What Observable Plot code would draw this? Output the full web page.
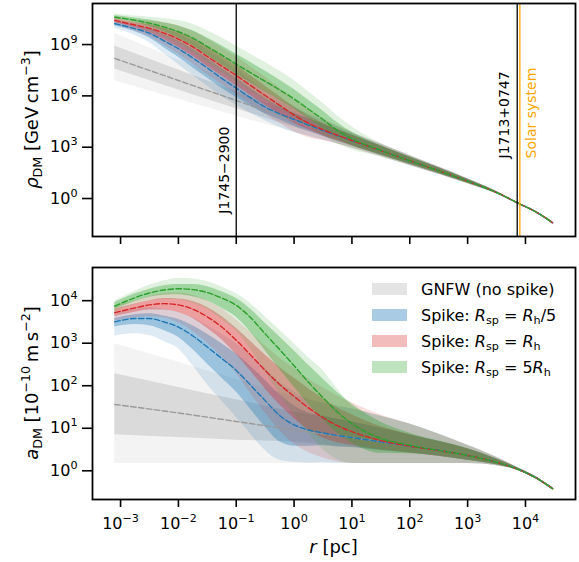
<!DOCTYPE html>
<html><head><meta charset="utf-8">
<script src="https://cdn.jsdelivr.net/npm/d3@7"></script>
<script src="https://cdn.jsdelivr.net/npm/@observablehq/plot@0.6"></script>
<style>
body{margin:0;background:#fff;font-family:"DejaVu Sans",sans-serif;}
#wrap{position:relative;width:579px;height:562px;overflow:hidden;background:#fff;}
#top,#bot{position:absolute;left:0;}
#top{top:0;} #bot{top:250px;}
#overlay{position:absolute;left:0;top:0;}
</style></head>
<body><div id="wrap"><div id="top"></div><div id="bot"></div>
<svg id="overlay" width="579" height="562" font-family="DejaVu Sans"></svg></div>
<script>
// ---------- data (log10 values) ----------
const logR_G = [-3.1,-2,-1,0,1,2,3,3.5,3.86,4.2,4.47];
const logR_S = [-3.1,-2.75,-2.5,-2.25,-2,-1.75,-1.5,-1.25,-1,-0.75,-0.5,-0.25,0,0.25,0.5,0.75,1,1.5,2,3,3.5,3.86,4.2,4.47];

// top panel: log10 rho_DM [GeV cm^-3]
const gnfwRhoMed = [8.19,6.90,5.73,4.56,3.39,2.21,1.01,0.35,-0.25,-0.82,-1.42];
const gnfwRhoUp1 = [0.72,0.62,0.52,0.42,0.32,0.22,0.12,0.05,0.01,0.02,0.04];
const gnfwRhoDn1 = [0.62,0.55,0.48,0.40,0.30,0.20,0.10,0.05,0.01,0.02,0.04];
const gnfwRhoUp2 = [1.45,1.20,0.98,0.72,0.45,0.30,0.15,0.07,0.02,0.04,0.07];
const gnfwRhoDn2 = [1.30,1.10,0.90,0.68,0.42,0.28,0.14,0.07,0.02,0.04,0.07];

const blueRhoMed = [10.22,9.93,9.66,9.22,8.76,8.21,7.63,7.02,6.45,5.88,5.35,4.95,4.62,4.29,3.97,3.68,3.39,2.80,2.21,1.01,0.35,-0.25,-0.82,-1.42];
const blueRhoUp1 = [.13,.17,.25,.35,.45,.52,.56,.58,.58,.55,.50,.42,.36,.38,.37,.35,.32,.27,.22,.12,.05,.01,.02,.04];
const blueRhoDn1 = [.13,.18,.28,.40,.50,.56,.58,.58,.55,.48,.40,.35,.38,.35,.33,.32,.30,.25,.20,.10,.05,.01,.02,.04];
const blueRhoUp2 = [.22,.32,.48,.68,.85,.98,1.05,1.10,1.10,1.05,.95,.85,.75,.65,.59,.52,.45,.38,.30,.15,.07,.02,.04,.07];
const blueRhoDn2 = [.28,.38,.55,.75,.92,1.02,1.05,1.05,1.00,.90,.80,.78,.76,.65,.55,.48,.42,.35,.28,.14,.07,.02,.04,.07];

const redRhoMed = [10.41,10.14,9.95,9.67,9.32,8.86,8.30,7.74,7.19,6.60,6.02,5.45,4.88,4.40,4.02,3.70,3.39,2.80,2.21,1.01,0.35,-0.25,-0.82,-1.42];
const redRhoUp1 = [.12,.15,.22,.32,.42,.50,.55,.58,.58,.58,.56,.52,.48,.42,.38,.35,.32,.27,.22,.12,.05,.01,.02,.04];
const redRhoDn1 = [.12,.16,.25,.37,.48,.55,.58,.58,.58,.58,.56,.52,.48,.36,.34,.32,.30,.25,.20,.10,.05,.01,.02,.04];
const redRhoUp2 = [.22,.30,.42,.60,.78,.92,1.02,1.08,1.10,1.10,1.08,1.00,.90,.78,.65,.55,.47,.38,.30,.15,.07,.02,.04,.07];
const redRhoDn2 = [.25,.35,.50,.70,.88,1.00,1.05,1.08,1.10,1.10,1.08,1.05,.98,.85,.65,.52,.45,.35,.28,.14,.07,.02,.04,.07];

const greenRhoMed = [10.60,10.42,10.25,10.03,9.75,9.38,8.88,8.38,7.85,7.35,6.85,6.35,5.82,5.22,4.62,3.98,3.50,2.81,2.21,1.01,0.35,-0.25,-0.82,-1.42];
const greenRhoUp1 = [.10,.13,.18,.25,.33,.42,.50,.55,.58,.60,.60,.58,.55,.52,.50,.45,.38,.28,.22,.12,.05,.01,.02,.04];
const greenRhoDn1 = [.10,.13,.18,.27,.36,.45,.52,.56,.58,.60,.60,.60,.58,.56,.52,.45,.38,.26,.20,.10,.05,.01,.02,.04];
const greenRhoUp2 = [.20,.25,.35,.50,.65,.80,.92,1.00,1.05,1.08,1.10,1.10,1.08,1.02,.95,.85,.70,.42,.30,.15,.07,.02,.04,.07];
const greenRhoDn2 = [.22,.28,.40,.55,.70,.85,.95,1.02,1.05,1.08,1.10,1.10,1.08,1.02,.92,.80,.65,.38,.28,.14,.07,.02,.04,.07];

// bottom panel: log10 a_DM [1e-10 m s^-2]
const gnfwAccMed = [1.56,1.36,1.16,0.96,0.78,0.58,0.36,0.20,0.04,-0.18,-0.42];
const gnfwAccUp1 = [0.72,0.60,0.51,0.42,0.37,0.27,0.16,0.08,0.03,0.02,0.02];
const gnfwAccDn1 = [0.71,0.58,0.44,0.29,0.23,0.16,0.11,0.06,0.02,0.02,0.02];
const gnfwAccUp2 = [1.43,1.19,0.99,0.79,0.68,0.52,0.24,0.12,0.04,0.03,0.03];
const gnfwAccDn2 = [1.39,1.19,0.99,0.79,0.61,0.41,0.19,0.08,0.03,0.03,0.03];

const blueAccMed = [3.50,3.58,3.58,3.50,3.38,3.17,2.91,2.64,2.36,2.01,1.65,1.30,1.08,0.96,0.89,0.83,0.78,0.68,0.58,0.36,0.20,0.04,-0.18,-0.42];
const blueAccUp1 = [.08,.09,.11,.14,.18,.24,.30,.35,.39,.44,.48,.50,.45,.40,.40,.38,.37,.32,.27,.16,.08,.03,.02,.02];
const blueAccDn1 = [.12,.14,.17,.20,.24,.32,.40,.46,.51,.57,.62,.62,.50,.38,.30,.27,.23,.20,.16,.11,.06,.02,.02,.02];
const blueAccUp2 = [.20,.22,.26,.30,.35,.43,.50,.57,.63,.70,.75,.78,.78,.72,.70,.69,.68,.60,.52,.24,.12,.04,.03,.03];
const blueAccDn2 = [.33,.36,.40,.46,.51,.70,.88,1.00,1.10,1.15,1.17,1.05,.88,.78,.70,.65,.61,.51,.41,.19,.08,.03,.03,.03];

const redAccMed = [3.72,3.83,3.90,3.93,3.90,3.80,3.62,3.38,3.07,2.72,2.36,2.03,1.75,1.48,1.25,1.06,0.92,0.71,0.58,0.36,0.20,0.04,-0.18,-0.42];
const redAccUp1 = [.08,.09,.10,.12,.14,.18,.22,.25,.28,.32,.36,.40,.43,.45,.45,.42,.40,.33,.27,.16,.08,.03,.02,.02];
const redAccDn1 = [.09,.10,.12,.15,.18,.22,.27,.30,.33,.38,.43,.48,.52,.52,.48,.40,.32,.22,.16,.11,.06,.02,.02,.02];
const redAccUp2 = [.15,.17,.20,.24,.28,.33,.38,.43,.48,.53,.58,.62,.66,.68,.70,.70,.68,.60,.52,.24,.12,.04,.03,.03];
const redAccDn2 = [.20,.24,.28,.34,.42,.52,.62,.70,.78,.90,1.00,1.08,1.12,1.05,.95,.85,.74,.54,.41,.19,.08,.03,.03,.03];

const greenAccMed = [3.87,4.07,4.18,4.25,4.28,4.26,4.19,4.06,3.89,3.60,3.22,2.85,2.47,2.08,1.72,1.38,1.11,0.76,0.60,0.36,0.20,0.04,-0.18,-0.42];
const greenAccUp1 = [.08,.09,.09,.10,.10,.12,.14,.15,.16,.20,.25,.30,.35,.40,.44,.46,.46,.38,.28,.16,.08,.03,.02,.02];
const greenAccDn1 = [.08,.09,.10,.12,.14,.17,.20,.24,.28,.34,.40,.46,.50,.52,.52,.50,.46,.35,.20,.11,.06,.02,.02,.02];
const greenAccUp2 = [.12,.15,.18,.21,.24,.25,.26,.26,.27,.33,.40,.46,.52,.58,.64,.55,.42,.52,.50,.24,.12,.04,.03,.03];
const greenAccDn2 = [.14,.16,.18,.22,.26,.32,.40,.50,.60,.75,.90,1.05,1.15,1.20,1.22,1.12,.94,.59,.43,.19,.08,.03,.03,.03];

// reference positions
const markerNames = ["J1745\u22122900", "J1713+0747", "Solar system"];
const markerR = [0.1, 7200, 8000];            // pc
const markerLabelRho = [0.13, 220, 220];      // label base height (GeV cm^-3)
const markerColors = ["#000000", "#000000", "#ffa500"];

const xTicks = [1e-3,1e-2,1e-1,1,1e1,1e2,1e3,1e4];
const rhoTicks = [1,1e3,1e6,1e9];
const accTicks = [1,1e1,1e2,1e3,1e4];

const legendLabels = ["GNFW (no spike)", "Spike: R_sp = R_h/5", "Spike: R_sp = R_h", "Spike: R_sp = 5R_h"];
const legendSwatch = ["#e4e4e4", "#a9cbe4", "#f3bcbc", "#bfe3bf"];

// ---------- build ----------
function rows(logR, med, up1, dn1, up2, dn2){
  return logR.map((l,i)=>({r:10**l, mid:10**med[i], lo1:10**(med[i]-dn1[i]), hi1:10**(med[i]+up1[i]),
    lo2:10**(med[i]-dn2[i]), hi2:10**(med[i]+up2[i])}));
}
const colors = {gnfw:"#acacac", blue:"#1f77b4", red:"#d62728", green:"#2ca02c"};
const lineColors = {gnfw:"#9a9a9a", blue:"#1f77b4", red:"#d62728", green:"#2ca02c"};

const topModels = [
  ["gnfw", rows(logR_G, gnfwRhoMed, gnfwRhoUp1, gnfwRhoDn1, gnfwRhoUp2, gnfwRhoDn2)],
  ["blue", rows(logR_S, blueRhoMed, blueRhoUp1, blueRhoDn1, blueRhoUp2, blueRhoDn2)],
  ["red", rows(logR_S, redRhoMed, redRhoUp1, redRhoDn1, redRhoUp2, redRhoDn2)],
  ["green", rows(logR_S, greenRhoMed, greenRhoUp1, greenRhoDn1, greenRhoUp2, greenRhoDn2)]
];
const botModels = [
  ["gnfw", rows(logR_G, gnfwAccMed, gnfwAccUp1, gnfwAccDn1, gnfwAccUp2, gnfwAccDn2)],
  ["blue", rows(logR_S, blueAccMed, blueAccUp1, blueAccDn1, blueAccUp2, blueAccDn2)],
  ["red", rows(logR_S, redAccMed, redAccUp1, redAccDn1, redAccUp2, redAccDn2)],
  ["green", rows(logR_S, greenAccMed, greenAccUp1, greenAccDn1, greenAccUp2, greenAccDn2)]
];

function bandMarks(models){
  const m = [];
  for (const [k, d] of models){
    m.push(Plot.areaY(d, {x:"r", y1:"lo2", y2:"hi2", fill:colors[k], fillOpacity:0.15, curve:"monotone-x"}));
    m.push(Plot.areaY(d, {x:"r", y1:"lo1", y2:"hi1", fill:colors[k], fillOpacity:0.35, curve:"monotone-x"}));
  }
  for (const [k, d] of models){
    m.push(Plot.lineY(d, {x:"r", y:"mid", stroke:lineColors[k], strokeWidth:1.4, strokeDasharray:"5.5,2.5", curve:"monotone-x"}));
  }
  return m;
}
const expFmt = d => "10^" + Math.round(Math.log10(d));
const xDomain = [10**-3.485, 10**4.865];

const markers = markerNames.map((n,i)=>({name:n, r:markerR[i], y:markerLabelRho[i], c:markerColors[i]}));

const topPlot = Plot.plot({
  width:579, height:250, marginLeft:92, marginRight:4, marginTop:3, marginBottom:14,
  style:{fontSize:"16px", fontFamily:"DejaVu Sans", background:"transparent", color:"#000"},
  x:{type:"log", domain:xDomain, label:null},
  y:{type:"log", domain:[10**-2.22, 10**11.4], label:null},
  marks:[
    ...bandMarks(topModels),
    Plot.ruleX(markers, {x:"r", stroke:"c", strokeWidth:1.3}),
    Plot.text([markers[0]], {x:"r", y:"y", text:"name", rotate:-90, textAnchor:"start", lineAnchor:"middle", dx:-12, fill:"c", fontSize:14}),
    Plot.text([markers[1]], {x:"r", y:"y", text:"name", rotate:-90, textAnchor:"start", lineAnchor:"middle", dx:-12.5, fill:"c", fontSize:14}),
    Plot.text([markers[2]], {x:"r", y:"y", text:"name", rotate:-90, textAnchor:"start", lineAnchor:"middle", dx:11.5, fill:"c", fontSize:14}),
    Plot.axisX({ticks:xTicks, tickSize:8, strokeWidth:1.6, tickFormat:()=>"", label:null}),
    Plot.axisY({ticks:rhoTicks, tickSize:10, tickPadding:5, strokeWidth:1.6, tickFormat:expFmt, label:null}),
    Plot.frame({stroke:"#000", strokeWidth:1.8})
  ]
});
const botPlot = Plot.plot({
  width:579, height:312, marginLeft:92, marginRight:4, marginTop:17, marginBottom:63,
  style:{fontSize:"16px", fontFamily:"DejaVu Sans", background:"transparent", color:"#000"},
  x:{type:"log", domain:xDomain, label:null},
  y:{type:"log", domain:[10**-0.675, 10**4.78], label:null},
  marks:[
    ...bandMarks(botModels),
    Plot.axisX({ticks:xTicks, tickSize:8, tickPadding:10, strokeWidth:1.6, tickFormat:expFmt, label:null}),
    Plot.axisY({ticks:accTicks, tickSize:10, tickPadding:5, strokeWidth:1.6, tickFormat:expFmt, label:null}),
    Plot.frame({stroke:"#000", strokeWidth:1.8})
  ]
});
const NS = "http://www.w3.org/2000/svg";
function supify(svg){
  svg.querySelectorAll("text").forEach(t=>{
    const m = t.textContent.match(/^10\^(-?\d+)$/);
    if(!m) return;
    t.textContent = "";
    const a = document.createElementNS(NS,"tspan"); a.textContent = "10"; t.appendChild(a);
    const b = document.createElementNS(NS,"tspan"); b.textContent = m[1].replace("-","\u2212");
    b.setAttribute("font-size","11.2"); b.setAttribute("dy","-7"); t.appendChild(b);
  });
}
supify(topPlot); supify(botPlot);
document.getElementById("top").appendChild(topPlot);
document.getElementById("bot").appendChild(botPlot);

// ---------- overlay texts: axis labels & legend ----------
const ov = d3.select("#overlay");
function richText(g, parts, size){
  let shift = 0;
  for (const [s, kind] of parts){
    const ts = g.append("tspan").text(s);
    let target = 0;
    if (kind === "sub") { ts.attr("font-size", size*0.7); target = size*0.22; }
    else if (kind === "sup") { ts.attr("font-size", size*0.7); target = -size*0.42; }
    if (kind === "i") ts.attr("font-style","italic");
    if (target !== shift) { ts.attr("dy", target - shift); shift = target; }
  }
}
const yl1 = ov.append("text").attr("transform","translate(38,119.5) rotate(-90)").attr("text-anchor","middle").attr("font-size",18);
richText(yl1, [["\u03c1","i"],["DM","sub"],[" [GeV\u2009cm","n"],["\u22123","sup"],["]","n"]], 18);
const yl2 = ov.append("text").attr("transform","translate(38,383) rotate(-90)").attr("text-anchor","middle").attr("font-size",18);
richText(yl2, [["a","i"],["DM","sub"],[" [10","n"],["\u221210","sup"],["\u2009m\u2009s","n"],["\u22122","sup"],["]","n"]], 18);
const xl = ov.append("text").attr("x",333.5).attr("y",553).attr("text-anchor","middle").attr("font-size",18);
richText(xl, [["r","i"],[" [pc]","n"]], 18);

const legendParts = legendLabels.map(s=>{
  const m = s.match(/^(Spike: )R_sp = (5?)R_h(\/5)?$/);
  if(!m) return [[s,"n"]];
  return [[m[1],"n"],["R","i"],["sp","sub"],[" = "+m[2],"n"],["R","i"],["h","sub"],[m[3]||"","n"]];
});
legendParts.forEach((parts,i)=>{
  const cy = 289 + 26*i;
  ov.append("rect").attr("x",372).attr("y",cy-6).attr("width",35).attr("height",12).attr("fill",legendSwatch[i]);
  const t = ov.append("text").attr("x",421).attr("y",cy+5.5).attr("font-size",16);
  richText(t, parts, 16);
});
</script></body></html>
